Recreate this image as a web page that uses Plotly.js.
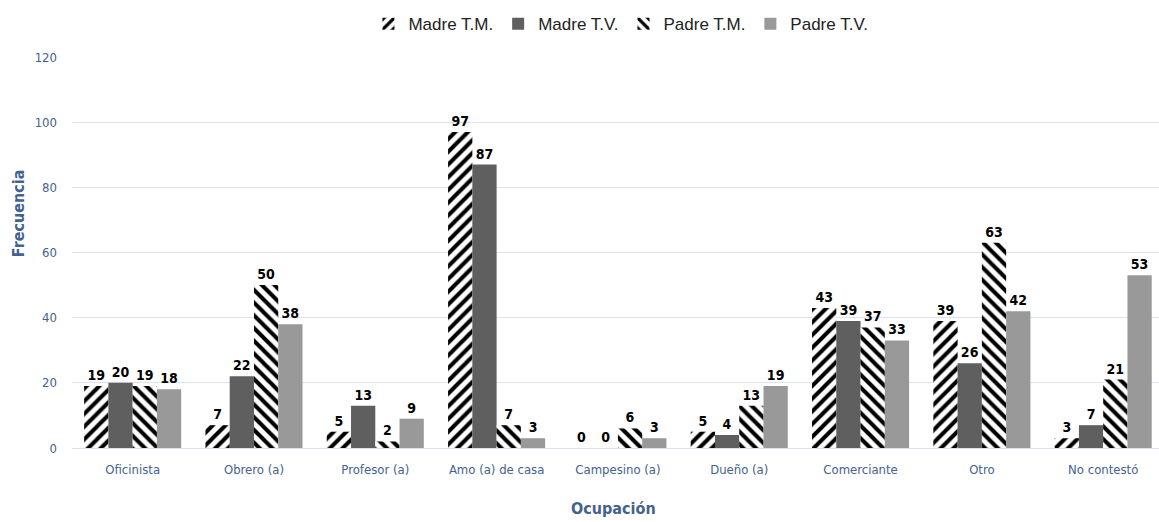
<!DOCTYPE html>
<html>
<head>
<meta charset="utf-8">
<script src="https://cdn.plot.ly/plotly-3.0.1.min.js"></script>
<style>html,body{margin:0;padding:0;background:#fff;}#chart{width:1159px;height:522px;}</style>
</head>
<body>
<div id="chart"></div>
<script>
const categories = ["Oficinista", "Obrero (a)", "Profesor (a)", "Amo (a) de casa", "Campesino (a)", "Dueño (a)", "Comerciante", "Otro", "No contestó"];
const madreTM = [19, 7, 5, 97, 0, 5, 43, 39, 3];
const madreTV = [20, 22, 13, 87, 0, 4, 39, 26, 7];
const padreTM = [19, 50, 2, 7, 6, 13, 37, 63, 21];
const padreTV = [18, 38, 9, 3, 3, 19, 33, 42, 53];
const seriesNames = ["Madre T.M.", "Madre T.V.", "Padre T.M.", "Padre T.V."];

const fam = "DejaVu Sans Condensed, Liberation Sans, Arial";
const labelFont = {family: fam, size: 14, color: "#000"};
function mk(name, y, marker) {
  return {
    type: "bar", name: name, x: categories, y: y,
    marker: marker,
    text: y.map(v => "<b>" + v + "</b>"), textposition: "outside",
    textfont: labelFont, cliponaxis: false,
    hoverinfo: "x+y+name"
  };
}
const data = [
  mk(seriesNames[0], madreTM, {color: "#ffffff", pattern: {shape: "/", fgcolor: "#000000", bgcolor: "#ffffff", size: 9, solidity: 0.45}}),
  mk(seriesNames[1], madreTV, {color: "#5f5f5f"}),
  mk(seriesNames[2], padreTM, {color: "#ffffff", pattern: {shape: "\\", fgcolor: "#000000", bgcolor: "#ffffff", size: 9, solidity: 0.45}}),
  mk(seriesNames[3], padreTV, {color: "#999999"})
];
const blue = "#44628f";
const layout = {
  width: 1159, height: 522,
  margin: {l: 72, r: 0, t: 57, b: 74},
  paper_bgcolor: "#fff", plot_bgcolor: "#fff",
  barmode: "group", bargap: 0.2, bargroupgap: 0,
  showlegend: true,
  legend: {orientation: "h", x: 0.505, xanchor: "center", y: 1.13, yanchor: "top",
           font: {family: "Liberation Sans, Arial", size: 17, color: "#222"}, itemwidth: 30, traceorder: "normal"},
  xaxis: {
    range: [-0.5, 8.46], showgrid: false, zeroline: false, showline: false,
    ticks: "", ticklabelstandoff: 12,
    tickfont: {family: fam, size: 13, color: blue}
  },
  yaxis: {
    range: [0, 120], dtick: 20, showgrid: true, gridcolor: "#d9e1f2", gridwidth: 1,
    zeroline: true, zerolinecolor: "#d9e1f2", zerolinewidth: 1, showline: false, ticks: "",
    tickfont: {family: fam, size: 13, color: blue},
    ticklabelstandoff: 14
  },
  annotations: [
    {text: "<b>Ocupación</b>", xref: "paper", yref: "paper", x: 0.498, y: -0.155, xanchor: "center", yanchor: "middle",
     showarrow: false, font: {family: fam, size: 16, color: blue}},
    {text: "<b>Frecuencia</b>", xref: "paper", yref: "paper", x: -0.049, y: 0.6, xanchor: "center", yanchor: "middle",
     textangle: -90, showarrow: false, font: {family: fam, size: 16, color: blue}}
  ]
};
Plotly.newPlot("chart", data, layout, {displayModeBar: false, staticPlot: true});
</script>
</body>
</html>
